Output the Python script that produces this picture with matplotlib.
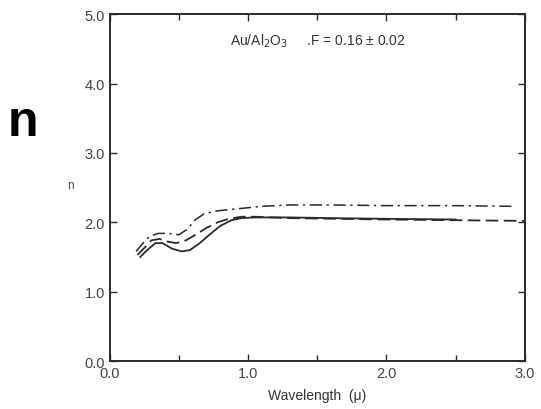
import numpy as np
import matplotlib.pyplot as plt
from matplotlib.ticker import MultipleLocator

plt.rcParams["font.family"] = ["Liberation Sans", "DejaVu Sans"]

# refractive index n vs wavelength (microns), three samples
wl_solid = [0.22, 0.27, 0.33, 0.38, 0.45, 0.52, 0.58, 0.65, 0.72, 0.80, 0.88, 0.95, 1.05, 1.3, 1.6, 2.0, 2.5]
n_solid = [1.50, 1.60, 1.70, 1.70, 1.62, 1.58, 1.60, 1.70, 1.82, 1.95, 2.03, 2.06, 2.07, 2.07, 2.06, 2.05, 2.04]

wl_dash = [0.20, 0.25, 0.30, 0.36, 0.42, 0.48, 0.55, 0.62, 0.70, 0.78, 0.86, 0.95, 1.05, 1.3, 2.0, 3.0]
n_dash = [1.53, 1.63, 1.74, 1.76, 1.72, 1.70, 1.74, 1.82, 1.92, 2.00, 2.05, 2.08, 2.08, 2.06, 2.04, 2.02]

wl_dashdot = [0.19, 0.24, 0.29, 0.35, 0.42, 0.50, 0.56, 0.62, 0.68, 0.76, 0.85, 0.95, 1.1, 1.3, 1.6, 2.0, 2.5, 2.92]
n_dashdot = [1.58, 1.70, 1.80, 1.84, 1.84, 1.82, 1.90, 2.04, 2.12, 2.16, 2.18, 2.20, 2.23, 2.25, 2.25, 2.24, 2.24, 2.23]

ink = "#2a2a2a"

fig = plt.figure(figsize=(5.41, 4.10), dpi=100)
ax = fig.add_axes([0.203, 0.117, 0.767, 0.846])

ax.plot(wl_solid, n_solid, color=ink, lw=1.3)
ax.plot(wl_dash, n_dash, color=ink, lw=1.3, dashes=(7, 3))
ax.plot(wl_dashdot, n_dashdot, color=ink, lw=1.1, dashes=(8, 3, 1.5, 3))

ax.set_xlim(0, 3.0)
ax.set_ylim(0, 5.0)
ax.xaxis.set_major_locator(MultipleLocator(1.0))
ax.xaxis.set_minor_locator(MultipleLocator(0.5))
ax.yaxis.set_major_locator(MultipleLocator(1.0))
ax.xaxis.set_major_formatter(lambda v, p: f"{v:.1f}")
ax.yaxis.set_major_formatter(lambda v, p: f"{v:.1f}")

ax.tick_params(which="both", direction="in", top=True, right=True,
               color=ink, width=1.0, labelsize=10.5, labelcolor="#444444")
ax.tick_params(which="major", length=5)
ax.tick_params(which="minor", length=4)
for s in ax.spines.values():
    s.set_color(ink)
    s.set_linewidth(1.4)

ax.set_xlabel("Wavelength  (μ)", fontsize=10, color="#333333", labelpad=6)
ax.set_ylabel("n", fontsize=8.5, color="#444444", rotation=0)
ax.yaxis.set_label_coords(-0.096, 0.49)

ax.text(0.5, 0.925, "Au/Al$_2$O$_3$     .F = 0.16 ± 0.02", transform=ax.transAxes,
        ha="center", va="center", fontsize=10, color="#333333")

fig.text(0.043, 0.70, "n", fontsize=36, fontweight="bold", ha="center", va="center")

plt.savefig("out.png")
